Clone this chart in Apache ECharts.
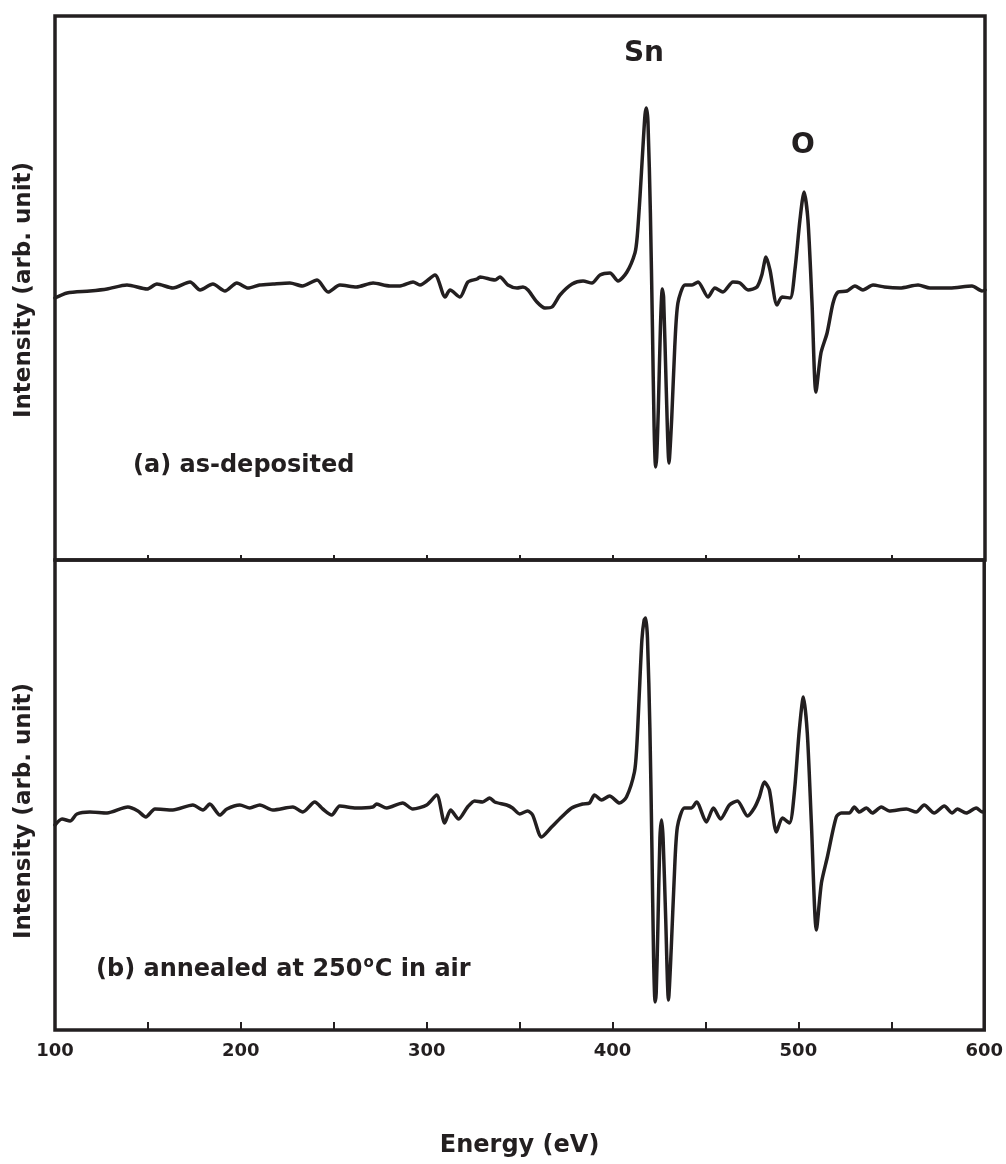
<!DOCTYPE html>
<html>
<head>
<meta charset="utf-8">
<title>AES spectra</title>
<script src="https://cdn.jsdelivr.net/npm/echarts@6/dist/echarts.min.js"></script>
<style>
  html, body { margin: 0; padding: 0; background: #fff; }
  #chart { width: 1006px; height: 1164px; }
</style>
</head>
<body>
<div id="chart"></div>
<script>
// (a) as-deposited : energy (eV) / intensity (arb. unit)
var energyA = [100, 106.5, 118.8, 128, 138.7, 149.5, 154.8, 163.4, 172.6, 178, 184.9, 191.4, 197.8, 203.8, 210, 217.2, 226.3, 233, 240.9, 246.8, 253.2, 262, 271, 280.1, 285.5, 292.5, 296.2, 304.3, 309.7, 312.4, 317.7, 322, 326.9, 328.5, 336.6, 339.2, 343.5, 348.4, 351.6, 354.3, 359.1, 363.4, 367.2, 371.5, 378, 383.9, 388.7, 393, 398.4, 402.7, 407.5, 411.8, 413, 414.5, 416.1, 417.2, 417.9, 418.8, 420.1, 421.2, 422.1, 422.9, 423.5, 424.4, 425.5, 426.5, 427.2, 428.6, 430.1, 431.6, 433.2, 434.9, 438.7, 442.5, 445.7, 451.1, 454.8, 459.1, 464.5, 468.3, 472.6, 477.4, 480, 482.3, 484.4, 488.2, 490.9, 495.2, 497.8, 500.5, 502.7, 504.8, 507, 509.1, 511.8, 515.1, 518.3, 521, 525.8, 530.1, 534.4, 539.8, 546, 554.3, 564, 570.4, 581.2, 593, 598.4, 600];
var intensityA = [-11, -6, -4, -2, 2, -2, 3, -1, 5, -3, 3, -4, 4, -1, 2, 3, 4, 1, 7, -5, 2, 0, 4, 1, 1, 5, 2, 12, -10, -3, -10, 5, 8, 10, 7, 10, 2, -1, 0, -3, -15, -21, -20, -8, 3, 6, 4, 12, 14, 6, 15, 34, 50, 90, 140, 172, 179, 165, 74, -40, -140, -180, -170, -120, -40, -2, -10, -100, -176, -130, -60, -16, 2, 2, 5, -10, -1, -5, 5, 4, -3, 0, 12, 30, 17, -18, -10, -11, 17, 67, 95, 67, -16, -105, -66, -46, -16, -5, -4, 1, -3, 2, 0, -1, 2, -1, -1, 1, -4, -3];

// (b) annealed at 250 C in air
var energyB = [100, 103.8, 108.1, 111.8, 118.8, 128, 139.2, 144.6, 148.9, 153.8, 163.4, 174.2, 179.6, 183.3, 188.7, 192.5, 199.5, 204.8, 210.2, 217.2, 228, 233.3, 239.8, 244.1, 248.9, 253.2, 262, 271, 273.1, 278.5, 287.1, 292.5, 300, 305.4, 309.7, 312.9, 317.2, 322, 325.8, 330.1, 333.9, 336.6, 343, 346.2, 350, 354.3, 357, 361.8, 367.2, 372.6, 378, 383.9, 387.6, 390.3, 394.1, 398.4, 403.8, 407.5, 411.8, 413, 414.3, 415.8, 417, 417.8, 418.8, 420.1, 421.2, 422.1, 422.9, 423.5, 424.4, 425.5, 426.4, 427.2, 428.6, 430.1, 431.6, 433.2, 434.9, 438.7, 442.5, 445.2, 450.5, 454.3, 458.1, 462.9, 467.2, 472.6, 476.3, 479, 481.7, 484.4, 488.2, 491.4, 495.2, 497.8, 500.5, 502.7, 504.8, 507, 509.7, 512.4, 515.6, 520.4, 523.1, 527.4, 530.1, 532.8, 536.6, 539.8, 544.6, 548.9, 558.1, 563.4, 567.7, 573.1, 578.5, 582.8, 585.5, 590.3, 595.7, 598.9, 600];
var intensityB = [-17, -11, -13, -6, -4, -5, 1, -3, -9, -1, -2, 3, -2, 4, -7, -1, 3, 0, 3, -2, 1, -4, 6, -1, -7, 2, 0, 1, 4, 0, 5, -1, 3, 13, -15, -2, -11, 1, 7, 6, 10, 6, 3, 0, -6, -3, -7, -29, -19, -9, 0, 4, 5, 13, 8, 12, 5, 11, 36, 60, 110, 168, 188, 190, 170, 80, -40, -150, -194, -185, -120, -30, -12, -30, -110, -192, -140, -70, -19, 0, 0, 6, -14, 0, -11, 3, 7, -8, 0, 11, 26, 18, -24, -10, -15, 15, 78, 111, 75, -15, -122, -75, -49, -9, -5, -5, 1, -4, 0, -5, 1, -3, -1, -4, 3, -5, 2, -5, -1, -5, 0, -4, -3];

var xTicks = [100, 200, 300, 400, 500, 600];

function pairs(xs, ys) {
  var out = [];
  for (var i = 0; i < xs.length; i++) out.push([xs[i], ys[i]]);
  return out;
}

var ink = "#231f20";
var font = "DejaVu Sans";

var myChart = echarts.init(document.getElementById("chart"), null, { renderer: "canvas" });

var option = {
  backgroundColor: "#fff",
  animation: false,
  grid: [
    { left: 55, top: 16, width: 930, height: 544, show: true, borderColor: ink, borderWidth: 3.5, containLabel: false },
    { left: 55, top: 560, width: 930, height: 470, show: true, borderColor: ink, borderWidth: 3.5, containLabel: false }
  ],
  xAxis: [
    {
      gridIndex: 0, type: "value", min: 100, max: 600, interval: 50,
      axisLine: { show: false, onZero: false },
      axisTick: { show: true, inside: true, length: 5, lineStyle: { color: ink, width: 2 } },
      axisLabel: { show: false },
      splitLine: { show: false }
    },
    {
      gridIndex: 1, type: "value", min: 100, max: 600, interval: 100,
      axisLine: { show: false, onZero: false },
      axisTick: { show: true, inside: true, length: 8, lineStyle: { color: ink, width: 2 } },
      minorTick: { show: true, splitNumber: 2, length: 8, lineStyle: { color: ink, width: 2 } },
      axisLabel: { show: true, margin: 12, color: ink, fontFamily: font, fontWeight: "bold", fontSize: 18,
        formatter: function (v) { return xTicks.indexOf(v) >= 0 ? String(v) : ""; } },
      splitLine: { show: false },
      name: "Energy (eV)", nameLocation: "middle", nameGap: 104,
      nameTextStyle: { color: ink, fontFamily: font, fontWeight: "bold", fontSize: 24 }
    }
  ],
  yAxis: [
    {
      gridIndex: 0, type: "value", min: -273, max: 271,
      axisLine: { show: false }, axisTick: { show: false }, axisLabel: { show: false }, splitLine: { show: false },
      name: "Intensity (arb. unit)", nameLocation: "middle", nameGap: 19, nameRotate: 90,
      nameTextStyle: { color: ink, fontFamily: font, fontWeight: "bold", fontSize: 23, padding: [0, 4, 0, 0] }
    },
    {
      gridIndex: 1, type: "value", min: -222, max: 248,
      axisLine: { show: false }, axisTick: { show: false }, axisLabel: { show: false }, splitLine: { show: false },
      name: "Intensity (arb. unit)", nameLocation: "middle", nameGap: 19, nameRotate: 90,
      nameTextStyle: { color: ink, fontFamily: font, fontWeight: "bold", fontSize: 23, padding: [0, 32, 0, 0] }
    }
  ],
  series: [
    {
      name: "(a) as-deposited", type: "line", xAxisIndex: 0, yAxisIndex: 0,
      data: pairs(energyA, intensityA), showSymbol: false, smooth: 0.25,
      lineStyle: { color: ink, width: 3.5, join: "round", cap: "round" }
    },
    {
      name: "(b) annealed", type: "line", xAxisIndex: 1, yAxisIndex: 1,
      data: pairs(energyB, intensityB), showSymbol: false, smooth: 0.25,
      lineStyle: { color: ink, width: 3.5, join: "round", cap: "round" }
    }
  ],
  graphic: [
    { type: "text", x: 644, y: 54, style: { text: "Sn", fill: ink, align: "center", verticalAlign: "middle", font: "bold 28px '" + font + "'" } },
    { type: "text", x: 803, y: 146, style: { text: "O", fill: ink, align: "center", verticalAlign: "middle", font: "bold 28px '" + font + "'" } },
    { type: "text", x: 133, y: 466, style: { text: "(a) as-deposited", fill: ink, verticalAlign: "middle", font: "bold 24px '" + font + "'" } },
    {
      type: "text", x: 96, y: 970,
      style: {
        text: "(b) annealed at 250{sup|o}C in air",
        fill: ink, fontFamily: font, fontWeight: "bold", fontSize: 24, verticalAlign: "middle",
        rich: { sup: { fontSize: 15, fontWeight: "bold", fontFamily: font, fill: ink, padding: [0, 1, 14, 1] } }
      }
    }
  ]
};

myChart.setOption(option);
</script>
</body>
</html>
